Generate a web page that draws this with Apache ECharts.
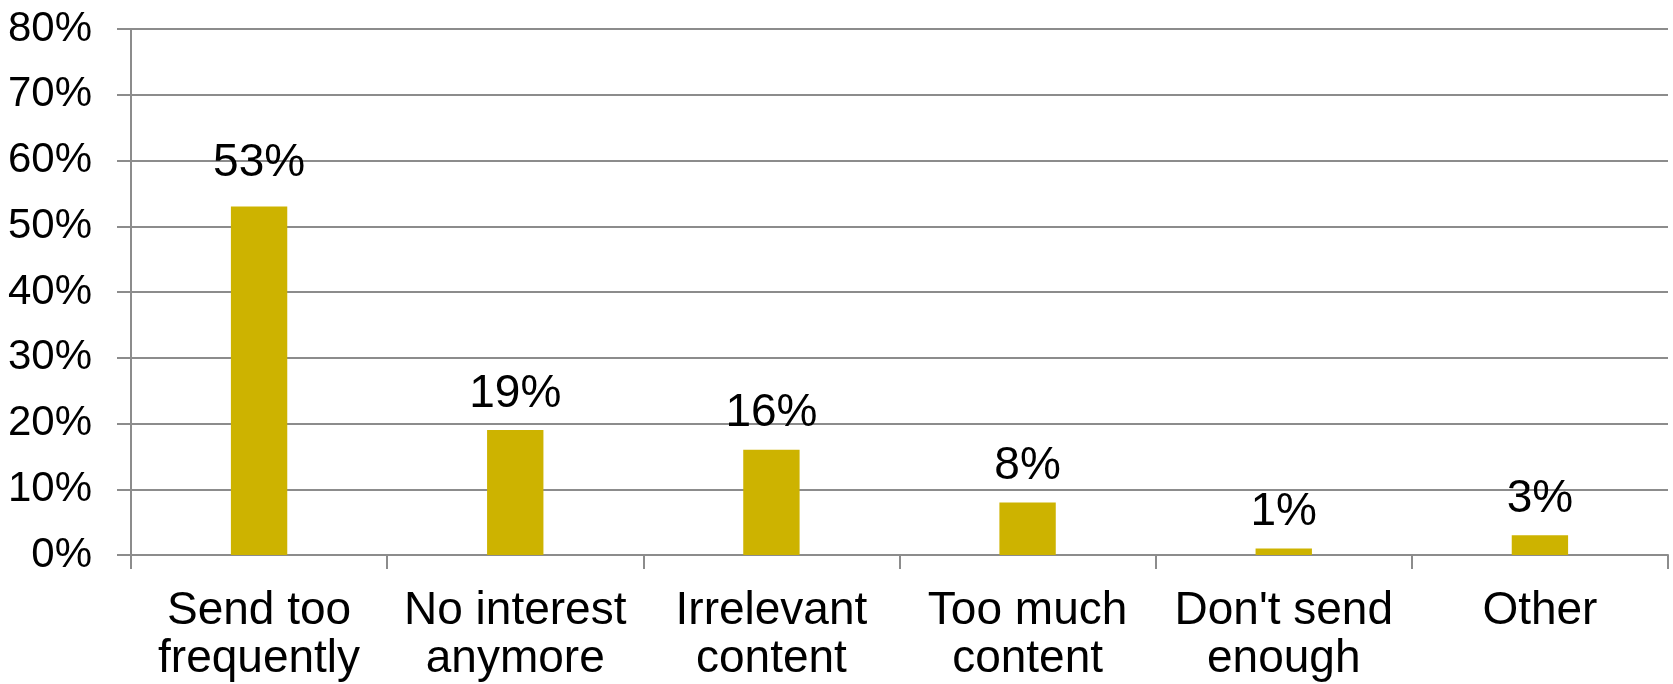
<!DOCTYPE html>
<html>
<head>
<meta charset="utf-8">
<style>
  html, body { margin: 0; padding: 0; background: #ffffff; }
  #chart { width: 1673px; height: 684px; }
</style>
<script src="https://cdn.jsdelivr.net/npm/echarts@6/dist/echarts.min.js"></script>
</head>
<body>
<div id="chart"></div>
<script>
const categories = [
  "Send too\nfrequently",
  "No interest\nanymore",
  "Irrelevant\ncontent",
  "Too much\ncontent",
  "Don't send\nenough",
  "Other"
];
const values = [53, 19, 16, 8, 1, 3];
const yMin = 0;
const yMax = 80;
const yStep = 10;

const FONT = '"Liberation Sans", Arial, sans-serif';
const GRAY = '#8c8c8c';

// The first value label sits a little higher in the original
const seriesData = values.map((v, i) => i === 0 ? { value: v, label: { distance: 20 } } : v);

const chart = echarts.init(document.getElementById('chart'), null, { renderer: 'canvas' });
chart.setOption({
  animation: false,
  backgroundColor: '#ffffff',
  grid: { left: 131, right: 5, top: 29, bottom: 129, containLabel: false },
  xAxis: {
    type: 'category',
    data: categories,
    boundaryGap: true,
    axisLine: { show: true, lineStyle: { color: GRAY, width: 2 } },
    axisTick: { show: true, length: 14, inside: false, lineStyle: { color: GRAY, width: 2 } },
    axisLabel: {
      interval: 0,
      margin: 32,
      color: '#000000',
      fontFamily: FONT,
      fontSize: 46,
      lineHeight: 48
    }
  },
  yAxis: {
    type: 'value',
    min: yMin,
    max: yMax,
    interval: yStep,
    axisLine: { show: true, lineStyle: { color: GRAY, width: 2 } },
    axisTick: { show: true, length: 14, inside: false, lineStyle: { color: GRAY, width: 2 } },
    splitLine: { show: true, lineStyle: { color: GRAY, width: 2 } },
    axisLabel: {
      margin: 39,
      color: '#000000',
      fontFamily: FONT,
      fontSize: 42,
      formatter: '{value}%'
    }
  },
  series: [{
    type: 'bar',
    data: seriesData,
    barWidth: '22%',
    itemStyle: { color: '#cdb300' },
    label: {
      show: true,
      position: 'top',
      distance: 13,
      color: '#000000',
      fontFamily: FONT,
      fontSize: 46,
      formatter: '{c}%'
    }
  }]
});
</script>
</body>
</html>
